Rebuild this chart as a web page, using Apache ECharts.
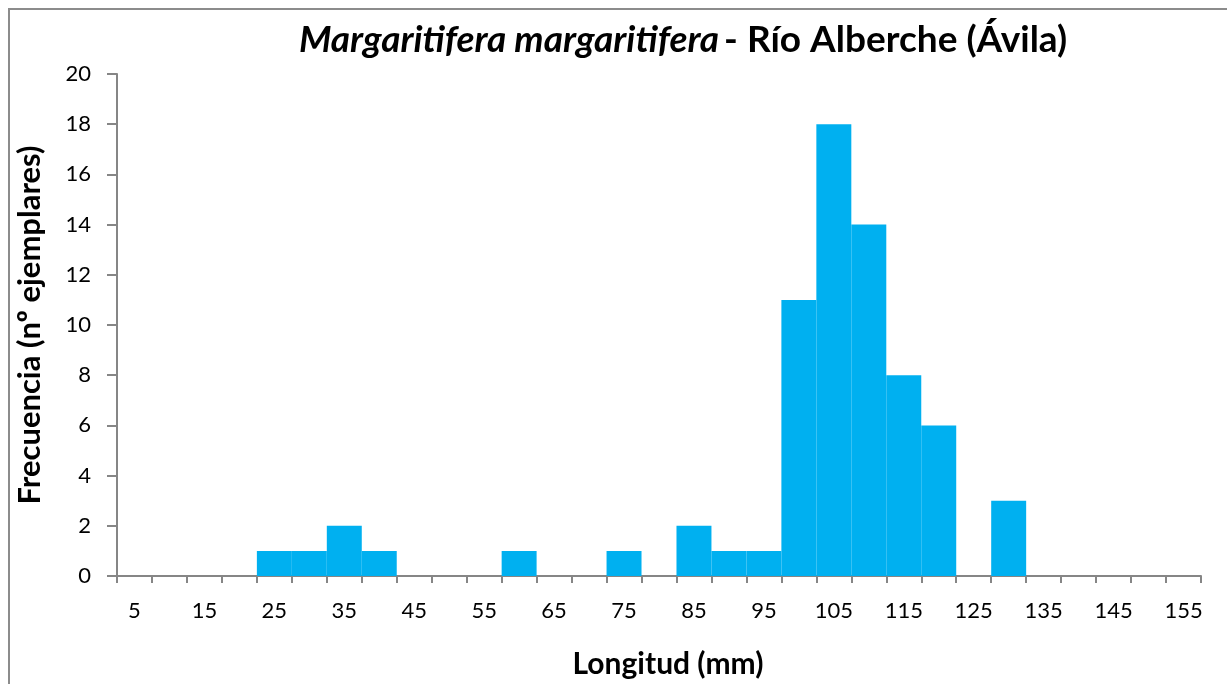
<!DOCTYPE html>
<html>
<head>
<meta charset="utf-8">
<script src="https://cdn.jsdelivr.net/npm/echarts@6/dist/echarts.min.js"></script>
<style>
	html, body { margin: 0; padding: 0; background: #fff; }
	#chart { width: 1227px; height: 684px; }
	.frame {
		position: absolute; left: 8px; top: 8px; width: 1240px; height: 700px;
		border-top: 2px solid #8c8c8c; border-left: 2px solid #8c8c8c;
		pointer-events: none;
	}
</style>
</head>
<body>
<div class="frame"></div>
<div id="chart"></div>
<script>
// clases de longitud (mm) y frecuencia
const lengths = ['5', '10', '15', '20', '25', '30', '35', '40', '45', '50', '55', '60', '65', '70', '75', '80',
	'85', '90', '95', '100', '105', '110', '115', '120', '125', '130', '135', '140', '145', '150', '155']
const counts = [0, 0, 0, 0, 1, 1, 2, 1, 0, 0, 0, 1, 0, 0, 1, 0,
	2, 1, 1, 11, 18, 14, 8, 6, 0, 3, 0, 0, 0, 0, 0]

const font = 'Lato, "Open Sans", sans-serif'
const axisGray = '#868686'

const myChart = echarts.init(document.getElementById('chart'))
const options = {
	animation: false,
	title: {
		text: '{i|Margaritifera margaritifera} {b|- Río Alberche (Ávila)}',
		left: 678,
		textAlign: 'center',
		top: 17,
		textStyle: {
			rich: {
				i: { fontFamily: font, fontSize: 37, fontWeight: 'bold', fontStyle: 'italic', color: '#000' },
				b: { fontFamily: font, fontSize: 37, fontWeight: 'bold', color: '#000' }
			}
		}
	},
	grid: {
		left: 117,
		right: 26,
		top: 74,
		bottom: 108,
		outerBoundsMode: 'none'
	},
	xAxis: {
		type: 'category',
		data: lengths,
		name: 'Longitud (mm)',
		nameLocation: 'middle',
		nameGap: 73,
		nameTextStyle: { fontFamily: font, fontSize: 30, fontWeight: 'bold', color: '#000', padding: [0, 0, 0, 18] },
		axisLine: { lineStyle: { color: axisGray, width: 2 } },
		axisTick: { show: true, interval: 0, length: 7, lineStyle: { color: axisGray, width: 2 } },
		axisLabel: { interval: 1, margin: 24, fontFamily: font, fontSize: 22, color: '#000' }
	},
	yAxis: {
		type: 'value',
		min: 0,
		max: 20,
		interval: 2,
		name: 'Frecuencia (nº ejemplares)',
		nameLocation: 'middle',
		nameGap: 72,
		nameRotate: 90,
		nameTextStyle: { fontFamily: font, fontSize: 31, fontWeight: 'bold', color: '#000' },
		axisLine: { show: true, lineStyle: { color: axisGray, width: 2 } },
		axisTick: { show: true, length: 10, lineStyle: { color: axisGray, width: 2 } },
		axisLabel: { margin: 26, fontFamily: font, fontSize: 22, color: '#000' },
		splitLine: { show: false }
	},
	series: [
		{
			type: 'bar',
			data: counts,
			barCategoryGap: '0%',
			itemStyle: { color: '#00b0f0' }
		}
	]
}
myChart.setOption(options)
</script>
</body>
</html>
